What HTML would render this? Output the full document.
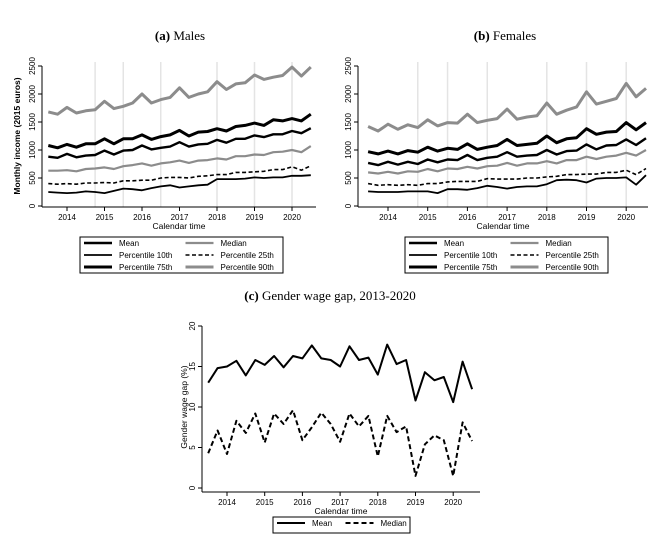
<!DOCTYPE html>
<html><head><meta charset="utf-8"><style>
body{margin:0;background:#fff;}
svg{display:block;font-family:"Liberation Sans",sans-serif;}
.t{font-family:"Liberation Serif",serif;font-size:13px;}
</style></head><body>
<svg id="c" width="655" height="537">
<text class="t" x="180" y="40" text-anchor="middle"><tspan font-weight="bold">(a)</tspan> Males</text>
<text class="t" x="505" y="40" text-anchor="middle"><tspan font-weight="bold">(b)</tspan> Females</text>
<text class="t" x="330" y="300" text-anchor="middle"><tspan font-weight="bold">(c)</tspan> Gender wage gap, 2013-2020</text>
</svg>
<script>
const years=[2014,2015,2016,2017,2018,2019,2020];
const incomeTicks=[0,500,1000,1500,2000,2500];
const gapTicks=[0,5,10,15,20];
const refLines=[2014.75,2015.5,2016.5,2018,2019,2020];
const tStart=2013.5, tStep=0.25;
const mP90=[1680,1640,1760,1660,1700,1720,1870,1740,1780,1840,2000,1840,1900,1940,2110,1940,2000,2040,2220,2080,2180,2200,2340,2260,2300,2330,2480,2320,2480];
const mP75=[1080,1040,1100,1050,1110,1110,1200,1110,1200,1200,1270,1190,1240,1270,1350,1250,1320,1330,1380,1340,1420,1440,1480,1440,1540,1520,1560,1520,1640];
const mMean=[880,860,930,870,900,910,990,920,990,1000,1080,1010,1040,1060,1140,1060,1100,1110,1180,1130,1200,1200,1260,1230,1280,1280,1340,1300,1390];
const mMedian=[630,630,640,620,660,670,690,660,710,730,760,720,760,780,810,770,810,820,850,830,890,890,920,910,960,970,1000,960,1070];
const mP25=[400,390,400,390,410,410,420,410,450,450,460,460,500,510,510,500,530,540,560,560,600,600,610,620,650,650,700,640,720];
const mP10=[250,240,230,240,260,250,230,270,310,300,280,320,350,370,330,350,370,380,480,480,480,490,510,500,510,510,540,540,550];
const fP90=[1420,1340,1460,1370,1450,1400,1540,1430,1490,1480,1640,1490,1530,1560,1730,1550,1590,1610,1840,1640,1710,1770,2040,1820,1870,1920,2190,1950,2100];
const fP75=[970,930,980,930,990,960,1050,980,1030,1010,1110,1010,1050,1080,1190,1080,1100,1120,1250,1130,1200,1220,1380,1280,1320,1330,1490,1360,1490];
const fMean=[770,730,790,740,790,750,830,780,830,820,910,820,860,880,960,880,900,910,1000,920,980,990,1100,1010,1080,1090,1190,1090,1210];
const fMedian=[600,580,610,580,620,610,660,620,670,660,700,670,710,720,770,720,760,760,800,760,820,820,880,840,880,900,950,900,1000];
const fP25=[400,370,380,370,380,370,400,400,430,440,440,440,490,480,480,480,500,500,520,530,560,560,570,570,600,600,640,560,670];
const fP10=[260,250,250,250,260,260,260,230,300,300,290,320,360,340,310,340,350,350,390,460,470,460,420,490,500,500,510,380,550];
const gapMean=[13,14.8,15,15.7,13.9,15.8,15.2,16.3,14.9,16.3,16,17.6,16,15.8,15,17.5,15.8,16.1,14,17.7,15.3,15.8,10.8,14.3,13.3,13.7,10.6,15.6,12.2];
const gapMedian=[4.3,7.1,4.2,8.3,6.8,9.2,5.6,9.2,7.9,9.6,5.9,7.5,9.3,7.9,5.7,9.2,7.6,8.9,3.9,8.9,6.9,7.6,1.5,5.4,6.5,5.9,1.5,8.1,5.8];

const svg=document.getElementById('c');
const NS='http://www.w3.org/2000/svg';
function mk(tag,attrs,parent){const e=document.createElementNS(NS,tag);for(const k in attrs)e.setAttribute(k,attrs[k]);(parent||svg).appendChild(e);return e;}

function panel(cfg){
  const g=mk('g',{});
  
  
  const xs=t=>cfg.x0+(t-2014)*cfg.xs;
  const ys=v=>cfg.yb-(v-cfg.ymin)*cfg.ys;
  if(cfg.ref){refLines.forEach(r=>{const l=mk('line',{x1:xs(r),x2:xs(r),y1:cfg.top,y2:cfg.axisY,stroke:'#e4e4e4','stroke-width':1.5},g);
    
    });}
  // axes
  const ya=mk('line',{x1:cfg.axisX,x2:cfg.axisX,y1:ys(cfg.ticks[cfg.ticks.length-1]),y2:cfg.axisY,stroke:'#000','stroke-width':1},g);
  
  
  const xa=mk('line',{x1:cfg.axisX,x2:cfg.right,y1:cfg.axisY,y2:cfg.axisY,stroke:'#000','stroke-width':1},g);
  
  
  cfg.ticks.forEach(v=>{
    mk('line',{x1:cfg.axisX-4,x2:cfg.axisX,y1:ys(v),y2:ys(v),stroke:'#000'},g);
    const tx=mk('text',{x:cfg.axisX-7,y:ys(v),'font-size':8,'text-anchor':'middle',transform:`rotate(-90 ${cfg.axisX-7} ${ys(v)})`},g);
    tx.textContent=v;
    
    
  });
  years.forEach(y=>{
    mk('line',{x1:xs(y),x2:xs(y),y1:cfg.axisY,y2:cfg.axisY+4,stroke:'#000'},g);
    const tx=mk('text',{x:xs(y),y:cfg.axisY+13,'font-size':8,'text-anchor':'middle'},g);
    tx.textContent=y;
    
    
  });
  const xt=mk('text',{x:(cfg.axisX+cfg.right)/2,y:cfg.axisY+22,'font-size':8.5,'text-anchor':'middle'},g);
  xt.textContent='Calendar time';
  
  
  if(cfg.ytitle){
    const yt=mk('text',{x:cfg.ytx,y:cfg.yty,'font-size':8.5,'text-anchor':'middle','font-weight':cfg.ybold?'bold':'normal',transform:`rotate(-90 ${cfg.ytx} ${cfg.yty})`},g);
    yt.textContent=cfg.ytitle;
    
    
  }
  cfg.series.forEach(s=>{
    const pts=s.data.map((v,i)=>xs(tStart+i*tStep).toFixed(1)+','+ys(v).toFixed(1)).join(' ');
    const p=mk('polyline',{points:pts,fill:'none',stroke:s.color,'stroke-width':s.w,'stroke-linejoin':'round','stroke-dasharray':s.dash||'none'},g);
    
    
  });
}
function series(p90,p75,mean,med,p25,p10){return [
 {name:'line-p90',data:p90,color:'#8c8c8c',w:3},
 {name:'line-median',data:med,color:'#8c8c8c',w:2.2},
 {name:'line-p75',data:p75,color:'#000',w:3},
 {name:'line-mean',data:mean,color:'#000',w:2.4},
 {name:'line-p25',data:p25,color:'#000',w:1.6,dash:'4,2.5'},
 {name:'line-p10',data:p10,color:'#000',w:1.8}];}
panel({name:'panel-males',x0:67,xs:37.5,yb:206,ymin:0,ys:28/500,axisX:42,axisY:207,right:316,top:62,ticks:incomeTicks,ref:true,
  ytitle:'Monthly income (2015 euros)',ytx:20,yty:136,ybold:true,series:series(mP90,mP75,mMean,mMedian,mP25,mP10)});
panel({name:'panel-females',x0:388,xs:39.7,yb:206,ymin:0,ys:28/500,axisX:358,axisY:207,right:648,top:62,ticks:incomeTicks,ref:true,
  series:series(fP90,fP75,fMean,fMedian,fP25,fP10)});
panel({name:'panel-gap',x0:227,xs:37.7,yb:488,ymin:0,ys:8.1,axisX:202,axisY:492,right:480,top:322,ticks:gapTicks,ref:false,
  ytitle:'Gender wage gap (%)',ytx:187,yty:407,series:[
  {name:'line-gap-mean',data:gapMean,color:'#000',w:2},
  {name:'line-gap-median',data:gapMedian,color:'#000',w:2,dash:'5,3'}]});

function legend(name,x,y,w,h,items,cols){
  const g=mk('g',{});
  
  
  mk('rect',{x:x,y:y,width:w,height:h,fill:'#fff',stroke:'#000','stroke-width':1},g);
  items.forEach((it,i)=>{
    const c=i%cols,r=Math.floor(i/cols);
    const lx=x+4+c*(w/cols),ly=y+6+r*12;
    mk('line',{x1:lx,x2:lx+28,y1:ly,y2:ly,stroke:it[1],'stroke-width':it[2],'stroke-dasharray':it[3]||'none'},g);
    const t=mk('text',{x:lx+35,y:ly+3,'font-size':8},g);
    t.textContent=it[0];
    
    
  });
}
const leg=[['Mean','#000',2.4],['Median','#8c8c8c',2.2],['Percentile 10th','#000',1.8],['Percentile 25th','#000',1.6,'4,2.5'],['Percentile 75th','#000',3],['Percentile 90th','#8c8c8c',3]];
legend('legend-males',80,237,203,36,leg,2);
legend('legend-females',405,237,203,36,leg,2);
legend('legend-gap',273,517,137,16,[['Mean','#000',2],['Median','#000',2,'5,3']],2);
</script>
</body></html>
